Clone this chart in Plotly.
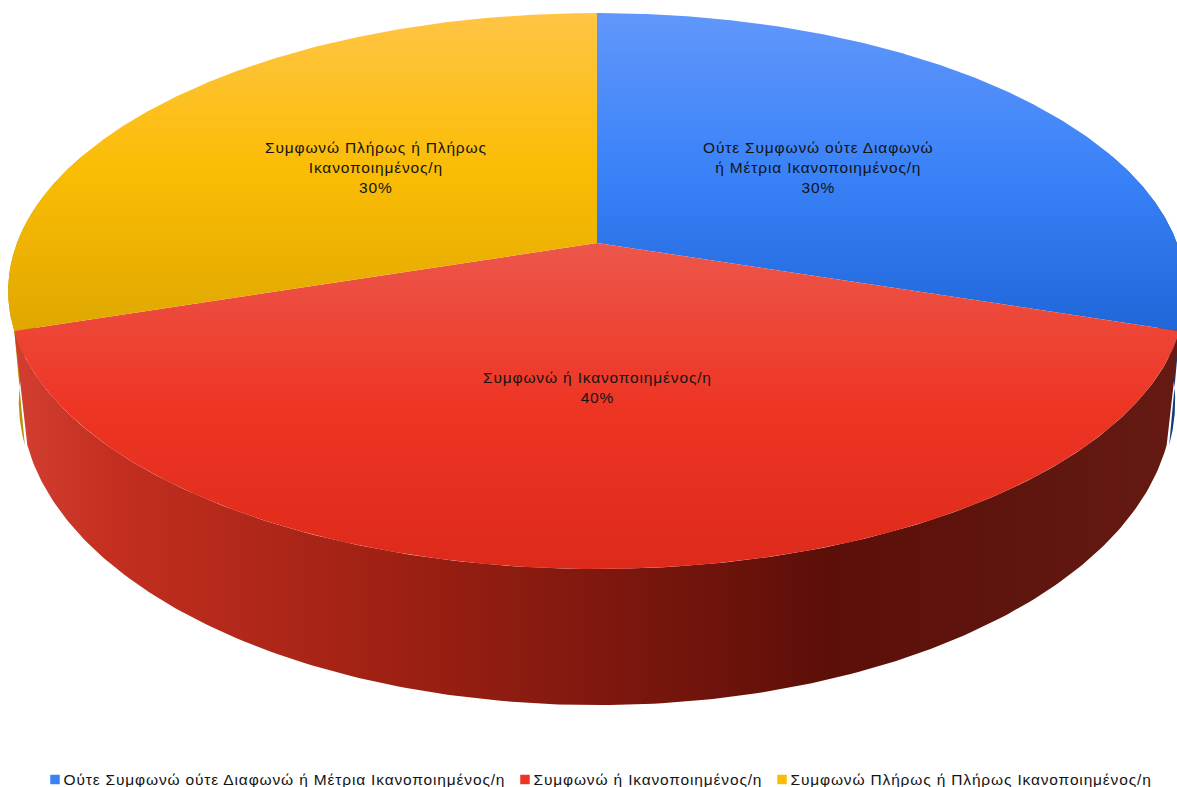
import numpy as np
import plotly.graph_objects as go

# Chart data
categories = [
    "Ούτε Συμφωνώ ούτε Διαφωνώ ή Μέτρια Ικανοποιημένος/η",
    "Συμφωνώ ή Ικανοποιημένος/η",
    "Συμφωνώ Πλήρως ή Πλήρως Ικανοποιημένος/η",
]
wrapped_labels = [
    "Ούτε Συμφωνώ ούτε Διαφωνώ<br>ή Μέτρια Ικανοποιημένος/η",
    "Συμφωνώ ή Ικανοποιημένος/η",
    "Συμφωνώ Πλήρως ή Πλήρως<br>Ικανοποιημένος/η",
]
values = [30, 40, 30]

# Face gradients for each slice; the y axis runs downwards, so stop 0 is the lower edge
FACE_SCALES = [
    [[0, "#1f66d9"], [0.5, "#3a82f8"], [1, "#6197fb"]],
    [[0, "#dd2a1a"], [0.5, "#ee3524"], [1, "#ec574b"]],
    [[0, "#dfa700"], [0.5, "#fbbc04"], [1, "#ffc545"]],
]
WALL_SCALES = [
    [[0, "#123a80"], [1, "#123a80"]],
    [[0, "#d23f31"], [0.08, "#c42f20"], [0.35, "#9a1f12"], [0.5, "#80180f"],
     [0.7, "#5c0f08"], [0.85, "#5e150d"], [1, "#651b13"]],
    [[0, "#b89000"], [1, "#b89000"]],
]
SWATCHES = ["#3a82f8", "#ee3524", "#fbbc04"]
TEXT_COLOR = "#141414"
FONT = "Liberation Sans, Arial, sans-serif"
FONT_SIZE = 15.5
TRACKING = "0.84px"

WIDTH, HEIGHT = 1177, 787
CX = 597
TILT = 0.1727


def tracked(text):
    """Wrap each line of a label so it is drawn with the wider letter spacing."""
    return "<br>".join(
        f'<span style="letter-spacing:{TRACKING}">{line}</span>'
        for line in text.split("<br>")
    )


def project(angle_deg, radius, plane):
    """Perspective projection of a polar point on the top or bottom disc."""
    a, b, y0 = plane
    t = np.radians(angle_deg)
    u, v = radius * np.sin(t), radius * np.cos(t)
    d = 1 + TILT * v
    return CX + a * u / d, y0 - b * v / d


TOP = (580, 269.7, 243)
BOTTOM = (567, 294.6, 349)
BOTTOM_SIDES = (569.5, 294.6, 349)

shares = np.array(values) / sum(values)
edges = np.concatenate([[0], np.cumsum(shares) * 360])

fig = go.Figure()


def add_wall(a0, a1, scale, lower):
    arc = np.linspace(a0, a1, 200)
    xt, yt = project(arc, 1, TOP)
    xb, yb = project(arc[::-1], 1, lower)
    fig.add_trace(go.Scatter(
        x=np.concatenate([xt, xb]), y=np.concatenate([yt, yb]),
        mode="lines", line=dict(width=0), fill="toself",
        fillgradient=dict(type="horizontal", colorscale=scale),
        hoverinfo="skip", showlegend=False,
    ))


# Rim: the neighbours' slivers go first, the front slice covers them
add_wall(edges[1] - 38, edges[1], WALL_SCALES[0], BOTTOM_SIDES)
add_wall(edges[2], edges[2] + 38, WALL_SCALES[2], BOTTOM_SIDES)
add_wall(edges[1], edges[2], WALL_SCALES[1], BOTTOM)

# Top faces
for i in range(len(values)):
    arc = np.linspace(edges[i], edges[i + 1], 300)
    x, y = project(arc, 1, TOP)
    fig.add_trace(go.Scatter(
        x=np.concatenate([[CX], x, [CX]]),
        y=np.concatenate([[TOP[2]], y, [TOP[2]]]),
        mode="lines", line=dict(width=0), fill="toself",
        fillgradient=dict(type="vertical", colorscale=FACE_SCALES[i]),
        hoverinfo="skip", showlegend=False,
    ))

# Slice labels just inside half radius along each mid-angle
for i in range(len(values)):
    mid = (edges[i] + edges[i + 1]) / 2
    lx, ly = project(mid, 0.495, TOP)
    fig.add_annotation(
        x=lx, y=ly, xref="x", yref="y", showarrow=False, yshift=1,
        text=tracked(f"{wrapped_labels[i]}<br>{values[i]}%"),
        font=dict(family=FONT, size=FONT_SIZE, color=TEXT_COLOR),
        align="center",
    )

# Legend row along the bottom edge: swatches, then their captions
legend_x = [55, 525, 782]
fig.add_trace(go.Scatter(
    x=legend_x, y=[779.5] * 3, mode="markers",
    marker=dict(symbol="square", size=9.5, color=SWATCHES),
    hoverinfo="skip", showlegend=False,
))
fig.add_trace(go.Scatter(
    x=[v + 8.5 for v in legend_x], y=[781] * 3, mode="text",
    text=[tracked(c) for c in categories], textposition="middle right",
    textfont=dict(family=FONT, size=FONT_SIZE, color=TEXT_COLOR),
    hoverinfo="skip", showlegend=False,
))

fig.update_layout(
    width=WIDTH, height=HEIGHT,
    margin=dict(l=0, r=0, t=0, b=0, autoexpand=False),
    paper_bgcolor="white", plot_bgcolor="white",
    showlegend=False,
    xaxis=dict(range=[0, WIDTH], visible=False, fixedrange=True),
    yaxis=dict(range=[HEIGHT, 0], visible=False, fixedrange=True),
)
fig.write_html("out.html", config={"displayModeBar": False})
